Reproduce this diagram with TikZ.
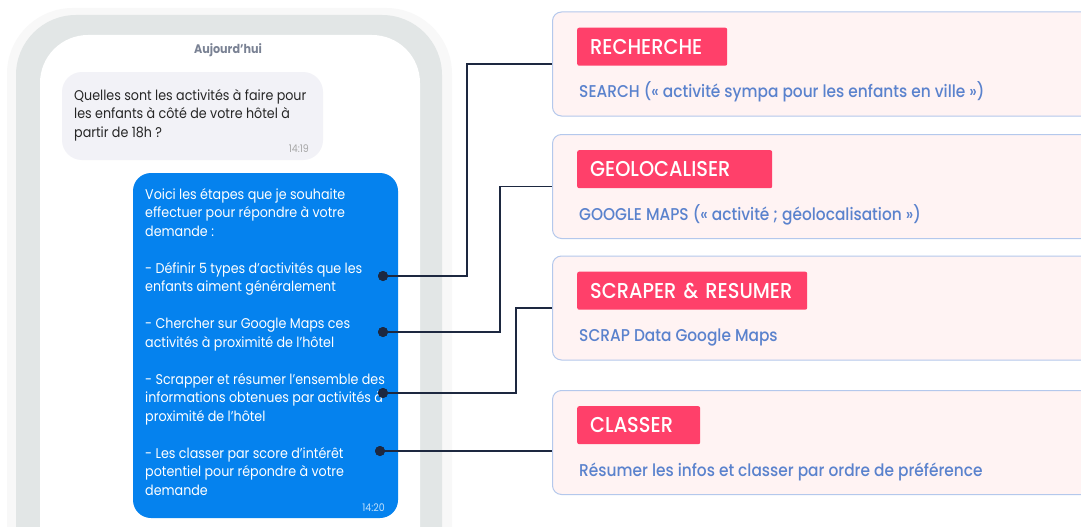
\documentclass[tikz,border=0pt]{standalone}
\usepackage{fontspec}
\setmainfont[FakeStretch=0.9]{Poppins}
\newfontfamily\poppinsmed[FakeStretch=0.9]{Poppins Medium}
\usepackage{tikz}
\definecolor{halo}{RGB}{248, 248, 248}
\definecolor{frame}{RGB}{226, 230, 230}
\definecolor{askgray}{RGB}{242, 242, 247}
\definecolor{replyblue}{RGB}{5, 130, 238}
\definecolor{ink}{RGB}{29, 40, 64}
\definecolor{boxline}{RGB}{180, 200, 236}
\definecolor{boxfill}{RGB}{255, 243, 243}
\definecolor{tagred}{RGB}{255, 64, 106}
\definecolor{hintblue}{RGB}{90, 130, 205}
\definecolor{dategray}{RGB}{122, 130, 148}

\begin{document}
\begin{tikzpicture}[x=1pt, y=-1pt,
  line/.style={anchor=base west, inner sep=0pt, font=\fontsize{14.1}{17}\selectfont},
  stamp/.style={anchor=base east, inner sep=0pt, font=\fontsize{10.5}{12}\selectfont},
  dot/.style={circle, fill=ink, inner sep=0pt, minimum size=10pt},
  link/.style={draw=ink, line width=1.4pt},
  stepbox/.style={draw=boxline, fill=boxfill, line width=1pt, rounded corners=9pt,
    minimum width=545pt, minimum height=104pt, anchor=west},
  tag/.style={fill=tagred, text=white, rounded corners=2pt, anchor=north west, align=left,
    inner xsep=13pt, inner ysep=0pt, minimum height=38pt, text height=15pt, text depth=0pt,
    font=\poppinsmed\fontsize{21.5}{24}\selectfont},
  hint/.style={text=hintblue, anchor=base west, inner sep=0pt, font=\poppinsmed\fontsize{17.1}{20}\selectfont}]
  \useasboundingbox (0,0) rectangle (1081,527);
  \clip (0,0) rectangle (1081,527);
  \fill[white] (0,0) rectangle (1081,527);

  % phone
  \fill[halo, rounded corners=66pt] (7,8) rectangle (452,640);
  \fill[frame, rounded corners=60pt] (16,15) rectangle (442,640);
  \fill[white, rounded corners=48pt] (40,35) rectangle (420,640);
  \node[anchor=base, inner sep=0pt, text=dategray, font=\bfseries\fontsize{12.4}{14}\selectfont] (today) at (228,53) {Aujourd\char39 hui};

  % question bubble
  \fill[askgray, rounded corners=20pt] (62,72) rectangle (323,160);
  \foreach \y/\t [count=\i] in {100/{Quelles sont les activités à faire pour},
      118.5/{les enfants à côté de votre hôtel à}, 137/{partir de 18h ?}}
    \node[line, text=black!85] (ask\i) at (74,\y) {\t};
  \node[stamp, text=black!35] (askt) at (309,152) {14:19};

  % answer bubble
  \fill[replyblue, rounded corners=18pt] (133,173) rectangle (398,518);
  \foreach \y/\t [count=\i] in {199/{Voici les étapes que je souhaite},
      217.5/{effectuer pour répondre à votre}, 236/{demande :},
      273/{- Définir 5 types d'activités que les}, 291.5/{enfants aiment généralement},
      328.5/{- Chercher sur Google Maps ces}, 347/{activités à proximité de l'hôtel},
      384/{- Scrapper et résumer l'ensemble des}, 402.5/{informations obtenues par activités à},
      421/{proximité de l'hôtel},
      458/{- Les classer par score d'intérêt}, 476.5/{potentiel pour répondre à votre}, 495/{demande}}
    \node[line, text=white] (plan\i) at (145,\y) {\t};
  \node[stamp, text=white!75!replyblue] (plant) at (385,511) {14:20};

  % steps
  \node[stepbox] (recherche) at (552,64) {};
  \node[stepbox] (geo) at (552,186.5) {};
  \node[stepbox] (scrap) at (552,308) {};
  \node[stepbox] (classer) at (552,442.5) {};

  \node[tag, text width=124pt] (tagA) at ([shift={(25,16)}]recherche.north west) {RECHERCHE};
  \node[tag, text width=169pt] (tagB) at ([shift={(25,16)}]geo.north west) {GEOLOCALISER};
  \node[tag, text width=204pt] (tagC) at ([shift={(25,16)}]scrap.north west) {SCRAPER \& RESUMER};
  \node[tag, text width=97pt] (tagD) at ([shift={(25,16)}]classer.north west) {CLASSER};

  \node[hint] (hintA) at ([shift={(27,86)}]recherche.north west) {SEARCH (« activité sympa pour les enfants en ville »)};
  \node[hint] (hintB) at ([shift={(27,86)}]geo.north west) {GOOGLE MAPS (« activité ; géolocalisation »)};
  \node[hint] (hintC) at ([shift={(27,86)}]scrap.north west) {SCRAP Data Google Maps};
  \node[hint] (hintD) at ([shift={(27,86)}]classer.north west) {Résumer les infos et classer par ordre de préférence};

  % links
  \node[dot] (dA) at (383,276) {};
  \node[dot] (dB) at (383,332) {};
  \node[dot] (dC) at (383,393) {};
  \node[dot] (dD) at (380,451) {};
  \draw[link] (dA.center) -| ([xshift=-85pt]recherche.west) -- (recherche.west);
  \draw[link] (dB.center) -| ([xshift=-52pt]geo.west) -- (geo.west);
  \draw[link] (dC.center) -| ([xshift=-36pt]scrap.west) -- (scrap.west);
  \draw[link] (dD.center) -- (dD.center -| classer.west);
  \foreach \d in {dA,dB,dC,dD} \fill[ink] (\d) circle (5pt);
\end{tikzpicture}
\end{document}
